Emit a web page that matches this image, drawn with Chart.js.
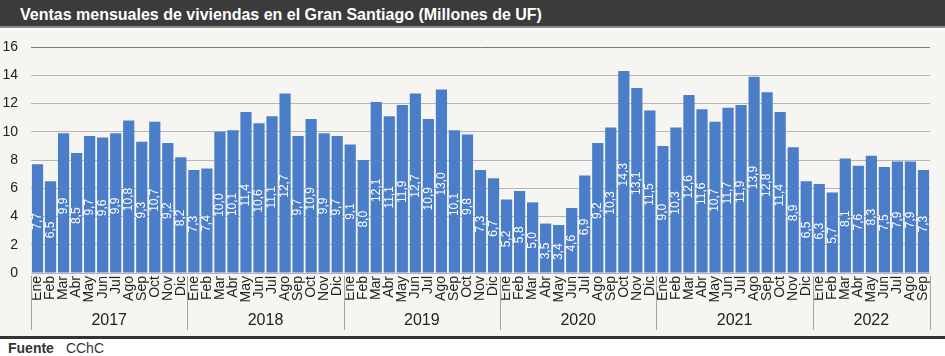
<!DOCTYPE html>
<html>
<head>
<meta charset="utf-8">
<script src="https://cdn.jsdelivr.net/npm/chart.js@4.4.1/dist/chart.umd.min.js"></script>
<style>
  html, body { margin: 0; padding: 0; background: #ffffff; }
  #wrap { position: relative; width: 945px; height: 356px; overflow: hidden; font-family: "Liberation Sans", Arial, sans-serif; }
  #title { position: absolute; left: 0; top: 0; width: 945px; height: 28px; background: #3b3b3b; border-bottom: 2px solid #8a8a8a;
           color: #ffffff; font-weight: bold; font-size: 16px; line-height: 29px; padding-left: 20px; box-sizing: border-box; white-space: nowrap; }
  #plot { position: absolute; left: 0; top: 30px; width: 945px; height: 306px; background: #f7f5f1; }
  #rule { position: absolute; left: 0; top: 336px; width: 945px; height: 3px; background: #333333; }
  #foot { position: absolute; left: 8px; top: 340px; font-size: 14px; line-height: 16px; color: #333; white-space: nowrap; }
  #foot b { margin-right: 12px; }
</style>
</head>
<body>
<div id="wrap">
  <div id="title">Ventas mensuales de viviendas en el Gran Santiago (Millones de UF)</div>
  <div id="plot"><canvas id="c" width="945" height="306"></canvas></div>
  <div id="rule"></div>
  <div id="foot"><b>Fuente</b>CChC</div>
</div>
<script>
const months = ['Ene','Feb','Mar','Abr','May','Jun','Jul','Ago','Sep','Oct','Nov','Dic'];
const years = ['2017','2018','2019','2020','2021','2022'];
const v2017 = [7.7, 6.5, 9.9, 8.5, 9.7, 9.6, 9.9, 10.8, 9.3, 10.7, 9.2, 8.2];
const v2018 = [7.3, 7.4, 10.0, 10.1, 11.4, 10.6, 11.1, 12.7, 9.7, 10.9, 9.9, 9.7];
const v2019 = [9.1, 8.0, 12.1, 11.1, 11.9, 12.7, 10.9, 13.0, 10.1, 9.8, 7.3, 6.7];
const v2020 = [5.2, 5.8, 5.0, 3.5, 3.4, 4.6, 6.9, 9.2, 10.3, 14.3, 13.1, 11.5];
const v2021 = [9.0, 10.3, 12.6, 11.6, 10.7, 11.7, 11.9, 13.9, 12.8, 11.4, 8.9, 6.5];
const v2022 = [6.3, 5.7, 8.1, 7.6, 8.3, 7.5, 7.9, 7.9, 7.3];
const yTicks = [0, 2, 4, 6, 8, 10, 12, 14, 16];

const yearValues = [v2017, v2018, v2019, v2020, v2021, v2022];
const labels = [];
const values = [];
const groups = [];
yearValues.forEach((arr, i) => {
  groups.push({ year: years[i], start: labels.length, end: labels.length + arr.length - 1 });
  arr.forEach((v, j) => { labels.push(months[j]); values.push(v); });
});

const FONT = '"Liberation Sans", Arial, sans-serif';

const valueLabels = {
  id: 'valueLabels',
  afterDatasetsDraw(chart) {
    const ctx = chart.ctx;
    const meta = chart.getDatasetMeta(0);
    ctx.save();
    ctx.fillStyle = '#ffffff';
    ctx.font = '12px ' + FONT;
    ctx.textAlign = 'center';
    ctx.textBaseline = 'middle';
    meta.data.forEach((bar, i) => {
      const cy = (bar.y + bar.base) / 2 + 3;
      ctx.save();
      ctx.translate(bar.x, cy);
      ctx.rotate(-Math.PI / 2);
      ctx.fillText(values[i].toFixed(1).replace('.', ','), 0, 0);
      ctx.restore();
    });
    ctx.restore();
  }
};

const yearAxis = {
  id: 'yearAxis',
  afterDraw(chart) {
    const ctx = chart.ctx;
    const x = chart.scales.x;
    const area = chart.chartArea;
    const half = (x.getPixelForValue(1) - x.getPixelForValue(0)) / 2;
    ctx.save();
    ctx.strokeStyle = '#a5a5a5';
    ctx.lineWidth = 1;
    ctx.fillStyle = '#222222';
    ctx.font = '16px ' + FONT;
    ctx.textAlign = 'center';
    ctx.textBaseline = 'middle';
    const top = area.bottom + 3;
    const bottom = area.bottom + 57;
    groups.forEach((g, i) => {
      const x0 = x.getPixelForValue(g.start) - half;
      const x1 = x.getPixelForValue(g.end) + half;
      const lines = i === 0 ? [x0, x1] : [x1];
      lines.forEach(px => {
        const p = Math.round(px) + 0.5;
        ctx.beginPath();
        ctx.moveTo(p, top);
        ctx.lineTo(p, bottom);
        ctx.stroke();
      });
      ctx.fillText(g.year, (x0 + x1) / 2, area.bottom + 48);
    });
    ctx.restore();
  }
};

new Chart(document.getElementById('c'), {
  type: 'bar',
  data: {
    labels: labels,
    datasets: [{
      data: values,
      backgroundColor: '#4a7ec8',
      borderWidth: 0,
      barPercentage: 0.86,
      categoryPercentage: 1.0
    }]
  },
  options: {
    responsive: false,
    animation: false,
    devicePixelRatio: 1,
    layout: { padding: { top: 17, right: 15, left: 0, bottom: 0 } },
    plugins: { legend: { display: false }, tooltip: { enabled: false }, title: { display: false } },
    scales: {
      x: {
        grid: { display: false, drawTicks: false },
        border: { display: false },
        ticks: {
          autoSkip: false, maxRotation: 90, minRotation: 90, padding: 3,
          color: '#222222', font: { family: FONT, size: 14 }
        },
        afterFit(s) { s.height = 63; }
      },
      y: {
        min: 0, max: 16,
        afterBuildTicks(s) { s.ticks = yTicks.map(v => ({ value: v })); },
        grid: {
          drawTicks: false,
          color: (c) => (c.tick && c.tick.value === 16) ? '#7a7a7a' : '#b5b5b5',
          lineWidth: 1
        },
        border: { display: false },
        ticks: { padding: 13, color: '#222222', font: { family: FONT, size: 14 } },
        afterFit(s) { s.width = 31; s.paddingTop = 8; s.paddingBottom = 8; }
      }
    }
  },
  plugins: [valueLabels, yearAxis]
});
</script>
</body>
</html>
